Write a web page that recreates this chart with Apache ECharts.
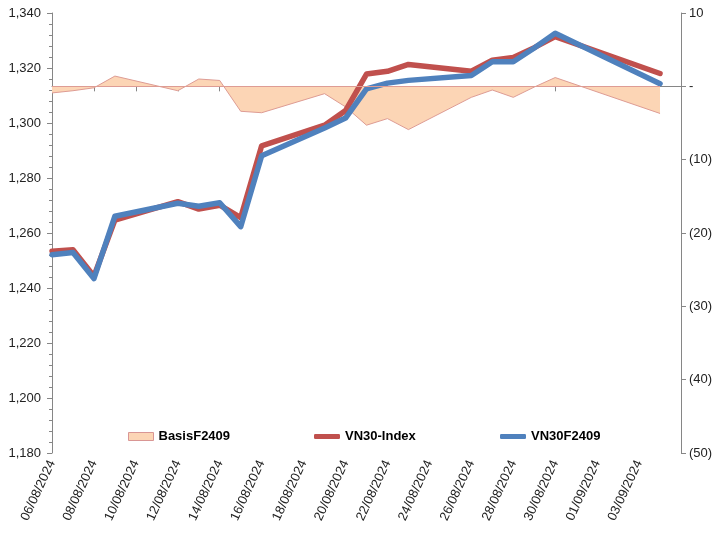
<!DOCTYPE html>
<html>
<head>
<meta charset="utf-8">
<style>
html,body{margin:0;padding:0;background:#fff;}
#chart{width:720px;height:533px;}
</style>
<script src="https://cdn.jsdelivr.net/npm/echarts@6/dist/echarts.min.js"></script>
</head>
<body>
<div id="chart"></div>
<script>
// ---- data ----
const dates = ['06/08/2024','07/08/2024','08/08/2024','09/08/2024','12/08/2024','13/08/2024','14/08/2024','15/08/2024','16/08/2024',
  '19/08/2024','20/08/2024','21/08/2024','22/08/2024','23/08/2024','26/08/2024','27/08/2024','28/08/2024','29/08/2024','30/08/2024','04/09/2024'];
const vn30Index = [1253.4,1253.9,1244.3,1264.7,1271.4,1268.7,1270.1,1265.6,1291.7,1299.2,1304.5,1317.8,1318.8,1321.3,1318.8,1322.8,1323.8,1327.4,1331.4,1318.0];
const vn30F2409 = [1252.1,1252.9,1243.4,1266.1,1270.8,1269.7,1271.0,1262.3,1288.1,1298.2,1301.8,1312.4,1314.5,1315.5,1317.3,1322.3,1322.3,1327.3,1332.6,1314.3];
const basisF2409 = [-0.9,-0.6,-0.2,1.4,-0.6,1.0,0.8,-3.4,-3.6,-1.0,-2.8,-5.3,-4.4,-5.9,-1.5,-0.5,-1.5,-0.1,1.2,-3.7];
const seriesNames = ['BasisF2409','VN30-Index','VN30F2409'];
const axisStartDate = '06/08/2024';
const axisEndDate = '05/09/2024';

// ---- helpers ----
const DAY = 86400000;
function parseD(s){const p=s.split('/');return Date.UTC(+p[2],+p[1]-1,+p[0]);}
const t0 = parseD(axisStartDate);
const xMax = (parseD(axisEndDate)-t0)/DAY;
const xs = dates.map(d => (parseD(d)-t0)/DAY);
function pad(n){return (n<10?'0':'')+n;}
function fmtDay(v){const d=new Date(t0+v*DAY);return pad(d.getUTCDate())+'/'+pad(d.getUTCMonth()+1)+'/'+d.getUTCFullYear();}
const pairs = arr => arr.map((v,i)=>[xs[i],v]);

const FONT = "'Liberation Sans', Arial, sans-serif";
const axisGrey = '#868686';

const chart = echarts.init(document.getElementById('chart'), null, {renderer:'canvas'});
const legendText = {fontFamily:FONT,fontSize:13,fontWeight:'bold',color:'#000'};
chart.setOption({
  animation:false,
  backgroundColor:'#fff',
  grid:{left:52,right:39,top:13,bottom:80,containLabel:false},
  legend:[
    {left:128,top:430,padding:0,itemWidth:25,itemHeight:8,itemGap:0,textStyle:legendText,
     data:[{name:seriesNames[0],icon:'rect',itemStyle:{color:'#FCD5B5',borderColor:'#D99694',borderWidth:1}}]},
    {left:314,top:430,padding:0,itemWidth:26,itemHeight:5,itemGap:0,textStyle:legendText,
     data:[{name:seriesNames[1],icon:'roundRect',itemStyle:{color:'#C0504D',borderWidth:0}}]},
    {left:500,top:430,padding:0,itemWidth:26,itemHeight:5,itemGap:0,textStyle:legendText,
     data:[{name:seriesNames[2],icon:'roundRect',itemStyle:{color:'#4F81BD',borderWidth:0}}]}
  ],
  xAxis:{
    type:'value',min:0,max:xMax,interval:2,
    axisLine:{show:true,lineStyle:{color:axisGrey,width:1}},
    axisTick:{show:true,inside:false,length:5,lineStyle:{color:axisGrey}},
    splitLine:{show:false},
    axisLabel:{rotate:65,margin:8,fontFamily:FONT,fontSize:13,color:'#222',showMaxLabel:false,
      formatter:v=>v>=xMax?'':fmtDay(v)}
  },
  yAxis:[
    {type:'value',min:1180,max:1340,interval:20,position:'left',
     axisLine:{show:true,lineStyle:{color:axisGrey,width:1}},
     axisTick:{show:true,inside:false,length:5,lineStyle:{color:axisGrey}},
     minorTick:{show:true,splitNumber:5,length:3,lineStyle:{color:axisGrey}},
     splitLine:{show:false},
     axisLabel:{margin:11,fontFamily:FONT,fontSize:13,color:'#222',
       formatter:v=>v.toLocaleString('en-US')}},
    {type:'value',min:-50,max:10,interval:10,position:'right',
     axisLine:{show:true,lineStyle:{color:axisGrey,width:1}},
     axisTick:{show:true,inside:false,length:5,lineStyle:{color:axisGrey}},
     splitLine:{show:false},
     axisLabel:{margin:8,align:'left',fontFamily:FONT,fontSize:13,color:'#222',
       formatter:v=>v>0?String(v):(v===0?'-':'('+Math.abs(v)+')')}}
  ],
  series:[
    {name:seriesNames[0],type:'line',yAxisIndex:1,data:pairs(basisF2409),
     showSymbol:false,symbol:'none',z:1,
     lineStyle:{color:'#DE9C94',width:1},
     itemStyle:{color:'#FCD5B5'},
     areaStyle:{color:'#FCD5B5',opacity:1},
     markLine:{silent:true,symbol:'none',label:{show:false},
       lineStyle:{color:'#DE9C94',width:1,type:'solid'},
       data:[[{coord:[xs[0],0]},{coord:[xs[xs.length-1],0]}]]}},
    {name:seriesNames[1],type:'line',yAxisIndex:0,data:pairs(vn30Index),
     showSymbol:false,symbol:'none',z:2,
     itemStyle:{color:'#C0504D'},
     lineStyle:{color:'#C0504D',width:5.5,cap:'round',join:'round'}},
    {name:seriesNames[2],type:'line',yAxisIndex:0,data:pairs(vn30F2409),
     showSymbol:false,symbol:'none',z:3,
     itemStyle:{color:'#4F81BD'},
     lineStyle:{color:'#4F81BD',width:5.5,cap:'round',join:'round'}}
  ]
});
</script>
</body>
</html>
